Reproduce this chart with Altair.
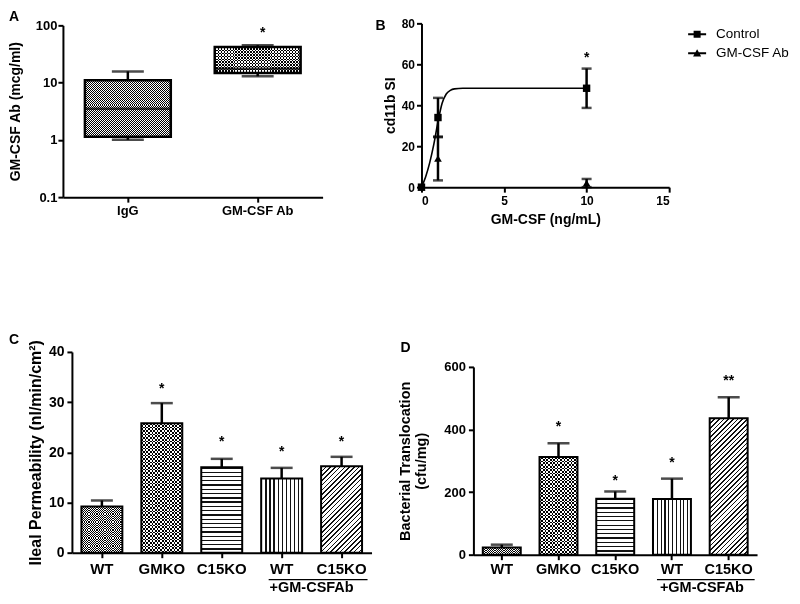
import math
import altair as alt
import pandas as pd

FONT = "Liberation Sans"

# ---------------- data ----------------
# Panel A (box plot, log axis)
a_groups = ["IgG", "GM-CSF Ab"]
a_min = [1.0, 12.9]
a_q1 = [1.13, 14.7]
a_median = [3.5, 17.5]
a_q3 = [11.0, 42.0]
a_max = [15.7, 45.0]
a_star_groups = ["GM-CSF Ab"]
a_star_values = [80.0]
a_ticks = [0.1, 1, 10, 100]

# Panel B (dose response)
b_series = ["Control", "GM-CSF Ab"]
b_dose = [0, 1, 10]
b_control_mean = [0.0, 34.0, 48.3]
b_control_err = [0.0, 9.6, 9.6]
b_ab_mean = [0.0, 14.0, 2.0]
b_ab_err = [0.0, 10.7, 2.0]
b_fit_dose = [0, 0.25, 0.5, 0.75, 1.0, 1.25, 1.5, 1.75, 2.0, 2.5, 3.0, 10.0]
b_fit_value = [0, 5, 12, 21, 32, 41, 45.5, 47.3, 48.0, 48.3, 48.3, 48.3]
b_star_dose = [10]
b_star_value = [64]
b_x_ticks = [0, 5, 10, 15]
b_y_ticks = [0, 20, 40, 60, 80]

# Panels C and D (bars)
cd_keys = ["WT", "GMKO", "C15KO", "WT+Ab", "C15KO+Ab"]
c_mean = [9.2, 25.8, 17.0, 14.8, 17.2]
c_sem = [1.2, 4.0, 1.7, 2.1, 1.9]
c_star_label = ["", "*", "*", "*", "*"]
c_star_value = [0, 33.0, 22.5, 20.5, 22.5]
c_ticks = [0, 10, 20, 30, 40]
d_mean = [23, 312, 179, 178, 436]
d_sem = [9, 44, 23, 65, 67]
d_star_label = ["", "*", "*", "*", "**"]
d_star_value = [0, 415, 243, 300, 562]
d_ticks = [0, 200, 400, 600]
treat_label = "+GM-CSFAb"

# ---------------- layout ----------------
W = 392
H_TOP, H_BOTTOM = 272, 314
STAR_DY = 2

cd_patterns = {"WT": ("checker", 1.8), "GMKO": ("checker", 3.5), "C15KO": ("hstripe", 4.3),
               "WT+Ab": ("vstripe", 4.0), "C15KO+Ab": ("diag", 3.3)}


def grad(n, duty, c1, c2, x2, y2):
    stops = []
    for i in range(n):
        a = i / n
        b = (i + duty) / n
        c = (i + 1) / n
        stops += [alt.GradientStop(color=c1, offset=a), alt.GradientStop(color=c1, offset=b),
                  alt.GradientStop(color=c2, offset=b), alt.GradientStop(color=c2, offset=c)]
    return alt.LinearGradient(gradient="linear", stops=stops, x1=0, y1=0, x2=x2, y2=y2)


def pattern_layers(base, kind, cell, w, h):
    h = max(h, 1.0)
    if kind == "checker":
        rows = max(1, round(h / cell))
        cols = max(1, round(w / cell))
        return [base.mark_bar(size=w, fill=grad(rows, 0.5, "#000000", "#ffffff", 0, 1)),
                base.mark_bar(size=w, fill=grad(cols, 0.5, "#ffffff", "#000000", 1, 0), blend="difference")]
    if kind == "hstripe":
        n = max(1, round(h / cell))
        return [base.mark_bar(size=w, fill=grad(n, 0.3, "#111111", "#ffffff", 0, 1))]
    if kind == "vstripe":
        n = max(1, round(w / cell))
        return [base.mark_bar(size=w, fill=grad(n, 0.3, "#111111", "#ffffff", 1, 0))]
    r = h / w
    k = (1 + r) / (1 + r * r)
    n = max(1, round((w + h) / (math.sqrt(2) * cell)))
    return [base.mark_bar(size=w, fill=grad(n, 0.35, "#111111", "#ffffff", k, k * r))]


def letter(t, x, y):
    return alt.Chart(pd.DataFrame({"t": [t]})).mark_text(
        fontSize=14, fontWeight="bold", align="left", baseline="top", color="black"
    ).encode(text="t:N", x=alt.value(x), y=alt.value(y))


# ---------------- Panel A ----------------
a_df = pd.DataFrame(dict(group=a_groups, lo=a_min, q1=a_q1, med=a_median, q3=a_q3, hi=a_max))
a_star_df = pd.DataFrame(dict(group=a_star_groups, value=a_star_values, label=["*"] * len(a_star_groups)))
A_XR, A_YR = [54, 314], [189, 17]
A_DECADE = (A_YR[0] - A_YR[1]) / 3.0
a_xscale = alt.Scale(domain=a_groups, range=A_XR, paddingInner=0, paddingOuter=0)
a_yscale = alt.Scale(type="log", domain=[0.1, 100], range=A_YR, nice=False)
a_xaxis = alt.Axis(title=None, offset=-(H_TOP - A_YR[0]), labelAngle=0, labelFontSize=13, labelPadding=2)
a_yaxis = alt.Axis(values=a_ticks, format="~g", title="GM-CSF Ab (mcg/ml)", offset=-A_XR[0],
                   labelFontSize=13, labelPadding=1, titleFontSize=14, titleX=-47,
                   titleY=(A_YR[0] + A_YR[1]) / 2, titleBaseline="middle", titleAlign="center")


def a_x(f="group"):
    return alt.X(f"{f}:N", scale=a_xscale, sort=a_groups, axis=a_xaxis)


def a_y(f):
    return alt.Y(f"{f}:Q", scale=a_yscale, axis=a_yaxis)


A_BOX_W = 86
a_patterns = {"IgG": ("checker", 2.0), "GM-CSF Ab": ("checker", 3.0)}
a_layers = [alt.Chart(a_df).mark_rule(color="black", strokeWidth=2.5).encode(x=a_x(), y=a_y("lo"), y2="hi")]
for g, q1, q3 in zip(a_groups, a_q1, a_q3):
    base = alt.Chart(a_df).transform_filter(alt.datum.group == g).encode(x=a_x(), y=a_y("q1"), y2=alt.Y2("q3"))
    kind, cell = a_patterns[g]
    a_layers += pattern_layers(base, kind, cell, A_BOX_W, (math.log10(q3) - math.log10(q1)) * A_DECADE)
a_layers += [
    alt.Chart(a_df).mark_bar(size=A_BOX_W, fillOpacity=0, stroke="black", strokeWidth=2.5).encode(
        x=a_x(), y=a_y("q1"), y2=alt.Y2("q3")),
    alt.Chart(a_df).mark_tick(size=32, thickness=2.5, color="black").encode(x=a_x(), y=a_y("lo")),
    alt.Chart(a_df).mark_tick(size=32, thickness=2.5, color="black").encode(x=a_x(), y=a_y("hi")),
    alt.Chart(a_df).mark_tick(size=A_BOX_W, thickness=2.5, color="black").encode(x=a_x(), y=a_y("med")),
    alt.Chart(a_star_df).mark_text(fontSize=14, fontWeight="bold", dy=STAR_DY, dx=5, color="black").encode(
        x=a_x(), y=a_y("value"), text="label:N"),
    letter("A", 0, 2),
]
panel_a = alt.layer(*a_layers).properties(width=W, height=H_TOP)

# ---------------- Panel B ----------------
b_rows = []
for s, means, errs in [(b_series[0], b_control_mean, b_control_err), (b_series[1], b_ab_mean, b_ab_err)]:
    for d, m, e in zip(b_dose, means, errs):
        b_rows.append(dict(series=s, dose=d, mean=m, lo=max(m - e, 0), hi=m + e, err=e))
b_df = pd.DataFrame(b_rows)
b_fit_df = pd.DataFrame(dict(dose=b_fit_dose, mean=b_fit_value))
b_star_df = pd.DataFrame(dict(dose=b_star_dose, mean=b_star_value, label=["*"] * len(b_star_dose)))
B_XR, B_YR = [21, 269], [179, 15]
b_xscale = alt.Scale(domain=[0, 15], range=B_XR, nice=False, zero=False)
b_yscale = alt.Scale(domain=[0, 80], range=B_YR, nice=False)
b_xaxis = alt.Axis(values=b_x_ticks, title="GM-CSF (ng/mL)", offset=-(H_TOP - B_YR[0]), labelFontSize=12,
                   labelPadding=3, titleFontSize=14, titleX=(B_XR[0] + B_XR[1]) / 2, titleY=32,
                   titleBaseline="middle", titleAlign="center")
b_yaxis = alt.Axis(values=b_y_ticks, title="cd11b SI", offset=-B_XR[0], labelFontSize=12, labelPadding=2,
                   titleFontSize=14, titleX=-31, titleY=(B_YR[0] + B_YR[1]) / 2, titleBaseline="middle",
                   titleAlign="center")


def b_x(f="dose"):
    return alt.X(f"{f}:Q", scale=b_xscale, axis=b_xaxis)


def b_y(f):
    return alt.Y(f"{f}:Q", scale=b_yscale, axis=b_yaxis)


b_err = alt.Chart(b_df).transform_filter(alt.datum.err > 0)
# legend glyphs: short line with the series marker on it (filled outlines)
ctrl_path = "M-1,-0.11H1V0.11H-1ZM-0.39,-0.39H0.39V0.39H-0.39Z"
ab_path = "M-1,-0.11H1V0.11H-1ZM0,-0.45L0.45,0.35L-0.45,0.35Z"
b_layers = [
    alt.Chart(b_fit_df).mark_line(color="black", strokeWidth=1.6, interpolate="monotone").encode(
        x=b_x(), y=b_y("mean")),
    b_err.mark_rule(color="black", strokeWidth=2.5).encode(x=b_x(), y=b_y("lo"), y2="hi"),
    b_err.mark_tick(orient="horizontal", size=10, thickness=2.5, color="black").encode(x=b_x(), y=b_y("hi")),
    b_err.mark_tick(orient="horizontal", size=10, thickness=2.5, color="black").encode(x=b_x(), y=b_y("lo")),
    alt.Chart(b_df).transform_filter(alt.datum.series == b_series[0]).mark_point(
        shape="square", filled=True, size=55, color="black", opacity=1).encode(x=b_x(), y=b_y("mean")),
    alt.Chart(b_df).transform_filter(alt.datum.series == b_series[1]).mark_point(
        shape="triangle-up", filled=True, size=60, color="black", opacity=1).encode(x=b_x(), y=b_y("mean")),
    alt.Chart(b_star_df).mark_text(fontSize=14, fontWeight="bold", dy=STAR_DY, color="black").encode(
        x=b_x(), y=b_y("mean"), text="label:N"),
    alt.Chart(pd.DataFrame({"series": b_series})).transform_filter("false").mark_point(
        filled=True, color="black", opacity=1).encode(
        shape=alt.Shape("series:N", scale=alt.Scale(domain=b_series, range=[ctrl_path, ab_path]),
                        legend=alt.Legend(orient="none", legendX=679, legendY=16, title=None,
                                          symbolSize=324, symbolFillColor="black", symbolOpacity=1,
                                          labelFont=FONT, labelFontSize=13.5, labelFontWeight="normal",
                                          labelColor="black", labelOffset=9, rowPadding=2, padding=0))),
    letter("B", -25, 11),
]
panel_b = alt.layer(*b_layers).properties(width=W, height=H_TOP)


# ---------------- Panels C and D ----------------
def bar_panel(means, sems, star_labels, star_values, ticks, xr, yr, ytitle, title_x, title_size,
              xlabel_size, xlabel_pad, ylabel_size, bar_w, cap_w, rule_offsets, text_dx, let, let_xy):
    df = pd.DataFrame(dict(key=cd_keys, mean=means, top=[m + s for m, s in zip(means, sems)]))
    sdf = pd.DataFrame(dict(key=cd_keys, value=star_values, label=star_labels))
    sdf = sdf[sdf["label"] != ""]
    ann = pd.DataFrame(dict(start=["WT+Ab"], end=["C15KO+Ab"], label=[treat_label]))
    xscale = alt.Scale(domain=cd_keys, range=xr, paddingInner=0, paddingOuter=0)
    yscale = alt.Scale(domain=[ticks[0], ticks[-1]], range=yr, nice=False)
    px = (yr[0] - yr[1]) / (ticks[-1] - ticks[0])
    xaxis = alt.Axis(title=None, offset=-(H_BOTTOM - yr[0]), labelAngle=0, labelFontSize=xlabel_size,
                     labelPadding=xlabel_pad, labelExpr="replace(datum.label, '+Ab', '')")
    yaxis = alt.Axis(values=ticks, title=ytitle, offset=-xr[0], labelFontSize=ylabel_size, labelPadding=3,
                     titleFontSize=title_size, titleX=title_x, titleY=(yr[0] + yr[1]) / 2,
                     titleBaseline="middle", titleAlign="center")

    def xe(f="key"):
        return alt.X(f"{f}:N", scale=xscale, sort=cd_keys, axis=xaxis)

    def ye(f):
        return alt.Y(f"{f}:Q", scale=yscale, axis=yaxis)

    layers = []
    for k, m in zip(cd_keys, means):
        base = alt.Chart(df).transform_filter(alt.datum.key == k).encode(x=xe(), y=ye("mean"))
        kind, cell = cd_patterns[k]
        layers += pattern_layers(base, kind, cell, bar_w, m * px)
    layers += [
        alt.Chart(df).mark_bar(size=bar_w, fillOpacity=0, stroke="black", strokeWidth=2).encode(x=xe(), y=ye("mean")),
        alt.Chart(df).mark_rule(color="black", strokeWidth=2.5).encode(x=xe(), y=ye("mean"), y2="top"),
        alt.Chart(df).mark_tick(size=cap_w, thickness=2.5, color="black").encode(x=xe(), y=ye("top")),
        alt.Chart(sdf).mark_text(fontSize=14, fontWeight="bold", dy=STAR_DY, color="black").encode(
            x=xe(), y=ye("value"), text="label:N"),
        alt.Chart(ann).mark_rule(color="black", strokeWidth=1.3, xOffset=rule_offsets[0],
                                 x2Offset=rule_offsets[1]).encode(x=xe("start"), x2="end", y=alt.value(300)),
        alt.Chart(ann).mark_text(fontSize=14.5, fontWeight="bold", baseline="middle", dx=text_dx,
                                 color="black").encode(x=xe("start"), y=alt.value(308), text="label:N"),
        letter(let, let_xy[0], let_xy[1]),
    ]
    return alt.layer(*layers).properties(width=W, height=H_BOTTOM)


panel_c = bar_panel(c_mean, c_sem, c_star_label, c_star_value, c_ticks, [63, 363], [273, 72],
                    "Ileal Permeability (nl/min/cm²)", -36, 16, 15, 4, 14, 41, 22, (-13, 26), 30,
                    "C", (0, 53))
panel_d = bar_panel(d_mean, d_sem, d_star_label, d_star_value, d_ticks, [73, 357], [275, 87],
                    ["Bacterial Translocation", "(cfu/mg)"], -68, 14.5, 14.5, 3, 13, 38, 22, (-15, 26), 30,
                    "D", (0, 61))

chart = alt.concat(panel_a, panel_b, panel_c, panel_d, columns=2, spacing=0, bounds="flush").properties(
    padding=0
).configure(font=FONT).configure_axis(
    labelFont=FONT, titleFont=FONT, labelFontWeight="bold", titleFontWeight="bold", labelColor="black",
    titleColor="black", domainColor="black", tickColor="black", domainWidth=2, tickWidth=2, tickSize=5,
    grid=False
).configure_view(stroke=None).configure_text(font=FONT)

chart.save("out.html", embed_options={"renderer": "svg", "actions": False})
